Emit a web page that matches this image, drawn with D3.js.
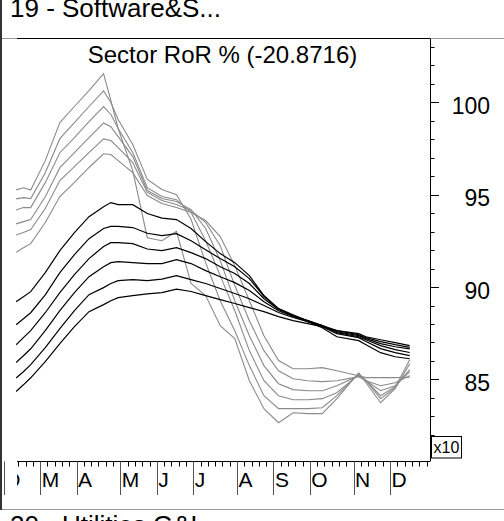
<!DOCTYPE html>
<html>
<head>
<meta charset="utf-8">
<script src="https://cdnjs.cloudflare.com/ajax/libs/d3/7.8.5/d3.min.js"></script>
<style>
body { margin: 0; background: #fff; }
svg { display: block; font-family: Arial, "Liberation Sans", sans-serif; }
</style>
</head>
<body>
<svg width="504" height="521"></svg>
<script>
// week index of each sample
var weeks = [0,1,2,4,6,8,10,12,13,14,16,18,20,22,24,26,28,30,32,34,36,38,40,42,44,47,48,50,52,54];

// grey lines (fast ones)
var g1 = [95.26,95.37,95.25,96.84,98.90,99.77,100.63,101.55,100.09,98.58,96.30,92.67,92.51,93.01,90.19,89.54,87.91,87.21,84.93,83.42,82.66,83.20,83.15,83.15,83.96,85.36,84.82,83.74,84.50,85.85];
var g2 = [94.77,94.84,94.79,96.19,98.03,98.90,99.77,100.61,99.99,99.07,97.71,95.82,95.28,95.00,93.67,91.32,89.26,87.64,85.75,84.12,83.42,83.42,83.42,83.47,84.12,85.31,84.93,83.96,84.56,86.07];
var g3 = [94.17,94.30,94.30,95.65,97.27,98.08,98.95,99.77,99.34,98.58,97.28,95.38,94.90,94.73,94.03,92.51,90.62,88.72,86.56,84.93,84.12,83.90,83.90,83.96,84.28,85.26,84.93,84.12,84.61,85.53];
var g4 = [93.42,93.54,93.65,94.89,96.46,97.27,98.08,98.88,98.68,98.14,97.06,95.22,94.79,94.63,94.19,93.17,91.43,89.26,87.37,85.75,84.77,84.45,84.39,84.39,84.66,85.20,84.93,84.39,84.66,85.42];
var g5 = [92.82,92.95,93.11,94.25,95.76,96.52,97.27,98.02,97.93,97.55,96.74,95.12,94.68,94.47,94.14,93.49,92.24,90.08,88.18,86.56,85.47,85.04,84.93,84.88,84.93,85.15,84.93,84.66,84.82,85.20];
var g6 = [91.88,92.13,92.35,93.49,94.90,95.66,96.47,97.21,97.17,96.84,96.19,94.95,94.52,94.30,94.03,93.60,92.73,91.16,89.26,87.37,86.02,85.58,85.58,85.64,85.47,85.20,85.10,85.10,85.10,85.12];

// black lines (slow ones)
var b1 = [89.21,89.48,89.75,90.78,91.97,92.94,93.81,94.35,94.57,94.46,94.46,93.98,93.73,93.65,93.17,92.46,91.81,91.32,90.62,89.54,88.83,88.45,88.13,87.80,87.31,87.10,86.88,86.45,86.23,86.12];
var b2 = [87.96,88.28,88.61,89.58,90.78,91.75,92.62,93.17,93.28,93.28,93.22,92.91,92.78,92.89,92.51,92.02,91.54,91.10,90.46,89.48,88.83,88.50,88.18,87.86,87.48,87.26,87.05,86.67,86.45,86.29];
var b3 = [86.88,87.26,87.64,88.61,89.70,90.67,91.54,92.19,92.40,92.40,92.35,92.06,91.97,92.13,91.86,91.54,91.10,90.73,90.19,89.37,88.78,88.45,88.18,87.91,87.53,87.31,87.15,86.83,86.61,86.46];
var b4 = [85.92,86.28,86.66,87.64,88.72,89.70,90.56,91.10,91.32,91.38,91.32,91.27,91.27,91.48,91.27,90.89,90.56,90.24,89.81,89.21,88.72,88.40,88.18,87.91,87.58,87.37,87.21,86.94,86.77,86.65];
var b5 = [85.08,85.42,85.80,86.72,87.75,88.72,89.59,89.97,90.19,90.35,90.40,90.35,90.43,90.62,90.40,90.19,89.92,89.65,89.37,89.00,88.62,88.35,88.13,87.91,87.64,87.42,87.26,87.05,86.88,86.74];
var b6 = [84.35,84.71,85.09,85.96,86.94,87.86,88.67,89.05,89.26,89.43,89.54,89.63,89.70,89.89,89.76,89.54,89.32,89.11,88.89,88.67,88.40,88.18,88.02,87.86,87.64,87.48,87.31,87.15,86.99,86.83];

var monthLabels = ["D","M","A","M","J","J","A","S","O","N","D"];
var monthStarts = [-2,3,8,14,19,24,30,35,40,46,51];
var yLabels = [85,90,95,100];

var svg = d3.select("svg"),
    width = +svg.attr("width"),
    height = +svg.attr("height");

var pLeft = 17, pRight = 430, pTop = 38.5, pBottom = 461.5;

var x = d3.scaleLinear().domain([0, 56]).range([18.3, 426.5]);
var y = d3.scaleLinear().domain([80.56, 103.45]).range([pBottom, pTop]);

// frame
svg.append("line").attr("x1", 0).attr("x2", width).attr("y1", pTop).attr("y2", pTop)
    .attr("stroke", "#999");
svg.append("line").attr("x1", 0).attr("x2", width).attr("y1", 509.5).attr("y2", 509.5)
    .attr("stroke", "#999");
svg.append("line").attr("x1", 1).attr("x2", 1).attr("y1", 0).attr("y2", 510)
    .attr("stroke", "#333").attr("stroke-width", 2);

svg.append("text").attr("x", 10).attr("y", 17.3)
    .style("font-size", "26px").text("19 - Software&S...");
svg.append("text").attr("x", 10).attr("y", 533.6)
    .style("font-size", "26px").text("20 - Utilities G&L...");

svg.append("text").attr("x", 222.5).attr("y", 63.3).attr("text-anchor", "middle")
    .style("font-size", "24px").text("Sector RoR % (-20.8716)");

svg.append("defs").append("clipPath").attr("id", "plot")
    .append("rect").attr("x", pLeft - 1).attr("y", pTop).attr("width", pRight - pLeft + 1).attr("height", pBottom - pTop);

// lines
var line = d3.line()
    .x(function (d, i) { return x(weeks[i] - 0.3); })
    .y(function (d) { return y(d); });

var plot = svg.append("g").attr("clip-path", "url(#plot)");
[g1, g2, g3, g4, g5, g6].forEach(function (s) {
    plot.append("path").attr("d", line(s)).attr("fill", "none")
        .attr("stroke", "#8a8a8a").attr("stroke-width", 1.1);
});
[b1, b2, b3, b4, b5, b6].forEach(function (s) {
    plot.append("path").attr("d", line(s)).attr("fill", "none")
        .attr("stroke", "#000").attr("stroke-width", 1.2);
});

// plot borders
svg.append("line").attr("x1", pLeft).attr("x2", pRight).attr("y1", pTop).attr("y2", pTop)
    .attr("stroke", "#000");
svg.append("line").attr("x1", pLeft).attr("x2", pRight).attr("y1", pBottom).attr("y2", pBottom)
    .attr("stroke", "#000");

// right axis
var yAxis = svg.append("g").attr("transform", "translate(" + pRight + ",0)");
yAxis.append("line").attr("x1", 0.5).attr("x2", 0.5).attr("y1", pTop).attr("y2", pBottom).attr("stroke", "#000");
yAxis.selectAll(".tk").data(d3.range(81, 104)).enter().append("line")
    .attr("x1", 0).attr("x2", function (d) { return d % 5 == 0 ? 9 : 4.5; })
    .attr("y1", function (d) { return Math.round(y(d)) + 0.5; })
    .attr("y2", function (d) { return Math.round(y(d)) + 0.5; })
    .attr("stroke", "#000");
yAxis.selectAll("text").data(yLabels).enter().append("text")
    .attr("x", 60).attr("y", function (d) { return y(d) + 11.5; })
    .attr("text-anchor", "end").style("font-size", "23px")
    .text(function (d) { return d; });

// x10 box
svg.append("rect").attr("x", 431.5).attr("y", 436.5).attr("width", 30).attr("height", 21.5)
    .attr("fill", "#fff").attr("stroke", "#000");
svg.append("text").attr("x", 433.5).attr("y", 453.3).style("font-size", "16px").text("x10");

// bottom axis
var xAxis = svg.append("g");
xAxis.selectAll(".tk").data(d3.range(0, 57)).enter().append("line")
    .attr("x1", function (d) { return Math.round(x(d)) + 0.5; })
    .attr("x2", function (d) { return Math.round(x(d)) + 0.5; })
    .attr("y1", pBottom).attr("y2", pBottom + 5)
    .attr("stroke", "#000");
xAxis.selectAll(".mo").data(monthStarts).enter().append("line")
    .attr("x1", function (d) { return Math.round(x(d)) + 0.5; })
    .attr("x2", function (d) { return Math.round(x(d)) + 0.5; })
    .attr("y1", pBottom).attr("y2", 495)
    .attr("stroke", "#555");

svg.append("defs").append("clipPath").attr("id", "xlab")
    .append("rect").attr("x", pLeft).attr("y", pBottom).attr("width", width - pLeft).attr("height", 40);
xAxis.append("g").attr("clip-path", "url(#xlab)")
    .selectAll("text").data(monthStarts).enter().append("text")
    .attr("x", function (d) { return x(d) + 1.5; })
    .attr("y", 487).style("font-size", "21px")
    .text(function (d, i) { return monthLabels[i]; });
</script>
</body>
</html>
